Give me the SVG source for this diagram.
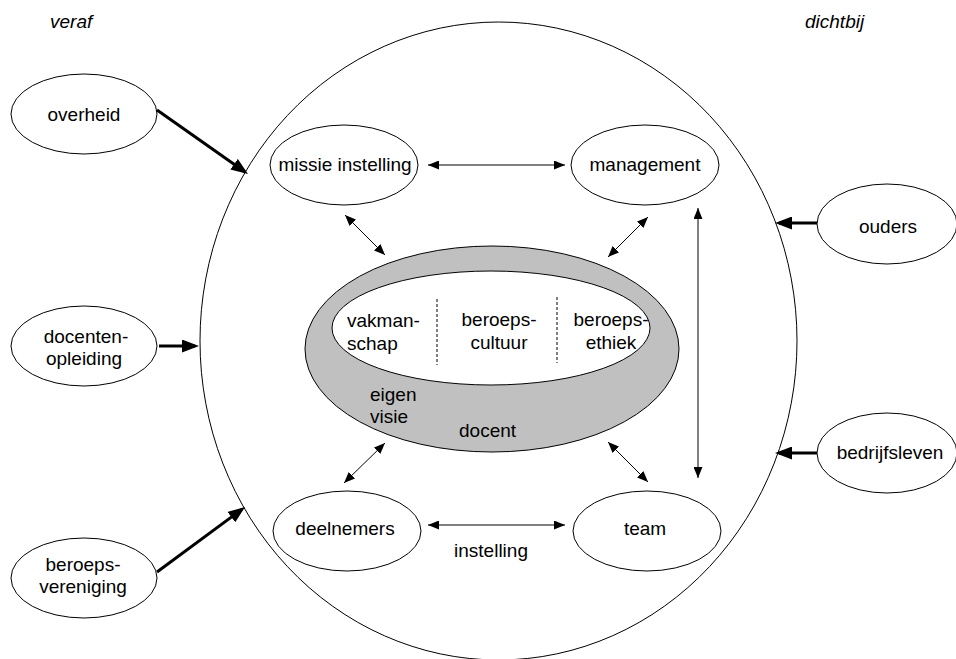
<svg xmlns="http://www.w3.org/2000/svg" width="956" height="659" viewBox="0 0 956 659">
<style>
  text { font-family: "Liberation Sans", Arial, sans-serif; font-size: 19px; fill: #000; }
  .c { text-anchor: middle; }
  .it { font-style: italic; }
  .node { fill: #fff; stroke: #000; stroke-width: 1; }
  .thin { stroke: #000; stroke-width: 1; fill: none; marker-start: url(#sa); marker-end: url(#sa); }
  .thick { stroke: #000; stroke-width: 3; fill: none; marker-end: url(#ta); }
</style>
<defs>
  <marker id="sa" markerUnits="userSpaceOnUse" markerWidth="11" markerHeight="9" refX="11" refY="4.5" orient="auto-start-reverse">
    <path d="M0,0 L11,4.5 L0,9 z" fill="#000"/>
  </marker>
  <marker id="ta" markerUnits="userSpaceOnUse" markerWidth="17" markerHeight="13" refX="13" refY="6.5" orient="auto">
    <path d="M0,0 L17,6.5 L0,13 z" fill="#000"/>
  </marker>
</defs>
<rect width="956" height="659" fill="#fff"/>

<text class="it" x="50" y="28">veraf</text>
<text class="it" x="805" y="28">dichtbij</text>

<g id="instelling-circle">
  <ellipse cx="498.5" cy="341" rx="298.5" ry="319" fill="none" stroke="#000" stroke-width="1"/>
  <text class="c" x="491" y="557">instelling</text>
</g>

<g id="docent">
  <ellipse cx="492" cy="349" rx="187" ry="103" fill="#c0c0c0" stroke="#000" stroke-width="1"/>
  <ellipse cx="491" cy="328" rx="159" ry="57" fill="#fff" stroke="#000" stroke-width="1"/>
  <line x1="437" y1="299" x2="437" y2="365" stroke="#000" stroke-width="1" stroke-dasharray="3,2"/>
  <line x1="557" y1="297" x2="557" y2="363" stroke="#000" stroke-width="1" stroke-dasharray="3,2"/>
  <text x="347" y="327">vakman-</text>
  <text x="347" y="350">schap</text>
  <text class="c" x="499" y="326">beroeps-</text>
  <text class="c" x="499" y="349">cultuur</text>
  <text class="c" x="611" y="326">beroeps-</text>
  <text class="c" x="611" y="349">ethiek</text>
  <text x="370" y="401">eigen</text>
  <text x="370" y="423">visie</text>
  <text x="459" y="437">docent</text>
</g>

<g id="overheid">
  <ellipse class="node" cx="84" cy="114" rx="73" ry="40"/>
  <text class="c" x="84" y="121">overheid</text>
</g>
<g id="docentenopleiding">
  <ellipse class="node" cx="84" cy="346" rx="73" ry="40"/>
  <text class="c" x="86" y="343">docenten-</text>
  <text class="c" x="84" y="365">opleiding</text>
</g>
<g id="beroepsvereniging">
  <ellipse class="node" cx="84" cy="578" rx="73" ry="40"/>
  <text class="c" x="83" y="571">beroeps-</text>
  <text class="c" x="83" y="593">vereniging</text>
</g>
<g id="ouders">
  <ellipse class="node" cx="887" cy="224" rx="70" ry="40"/>
  <text class="c" x="888" y="233">ouders</text>
</g>
<g id="bedrijfsleven">
  <ellipse class="node" cx="887" cy="453" rx="70" ry="40"/>
  <text class="c" x="890" y="459">bedrijfsleven</text>
</g>

<g id="missie">
  <ellipse class="node" cx="344" cy="165" rx="74" ry="40"/>
  <text class="c" x="345" y="171">missie instelling</text>
</g>
<g id="management">
  <ellipse class="node" cx="645" cy="165" rx="74" ry="40"/>
  <text class="c" x="645" y="171">management</text>
</g>
<g id="deelnemers">
  <ellipse class="node" cx="347" cy="531" rx="74" ry="40"/>
  <text class="c" x="345" y="535">deelnemers</text>
</g>
<g id="team">
  <ellipse class="node" cx="647" cy="531" rx="74" ry="40"/>
  <text class="c" x="645" y="535">team</text>
</g>

<g id="connectors">
  <line class="thin" x1="428" y1="165" x2="565" y2="165"/>
  <line class="thin" x1="428" y1="525" x2="565" y2="525"/>
  <line class="thin" x1="698" y1="208" x2="698" y2="478" stroke="#444"/>
  <line class="thin" x1="345" y1="215" x2="385" y2="255"/>
  <line class="thin" x1="648" y1="217" x2="608" y2="257"/>
  <line class="thin" x1="385" y1="443" x2="344" y2="483"/>
  <line class="thin" x1="608" y1="442" x2="648" y2="482"/>
  <line class="thick" x1="157" y1="110" x2="244.7" y2="171.7"/>
  <line class="thick" x1="159" y1="346" x2="195" y2="346"/>
  <line class="thick" x1="157" y1="572" x2="241.8" y2="509.4"/>
  <line class="thick" x1="817" y1="223" x2="779" y2="223"/>
  <line class="thick" x1="817" y1="453" x2="779" y2="453"/>
</g>
</svg>
